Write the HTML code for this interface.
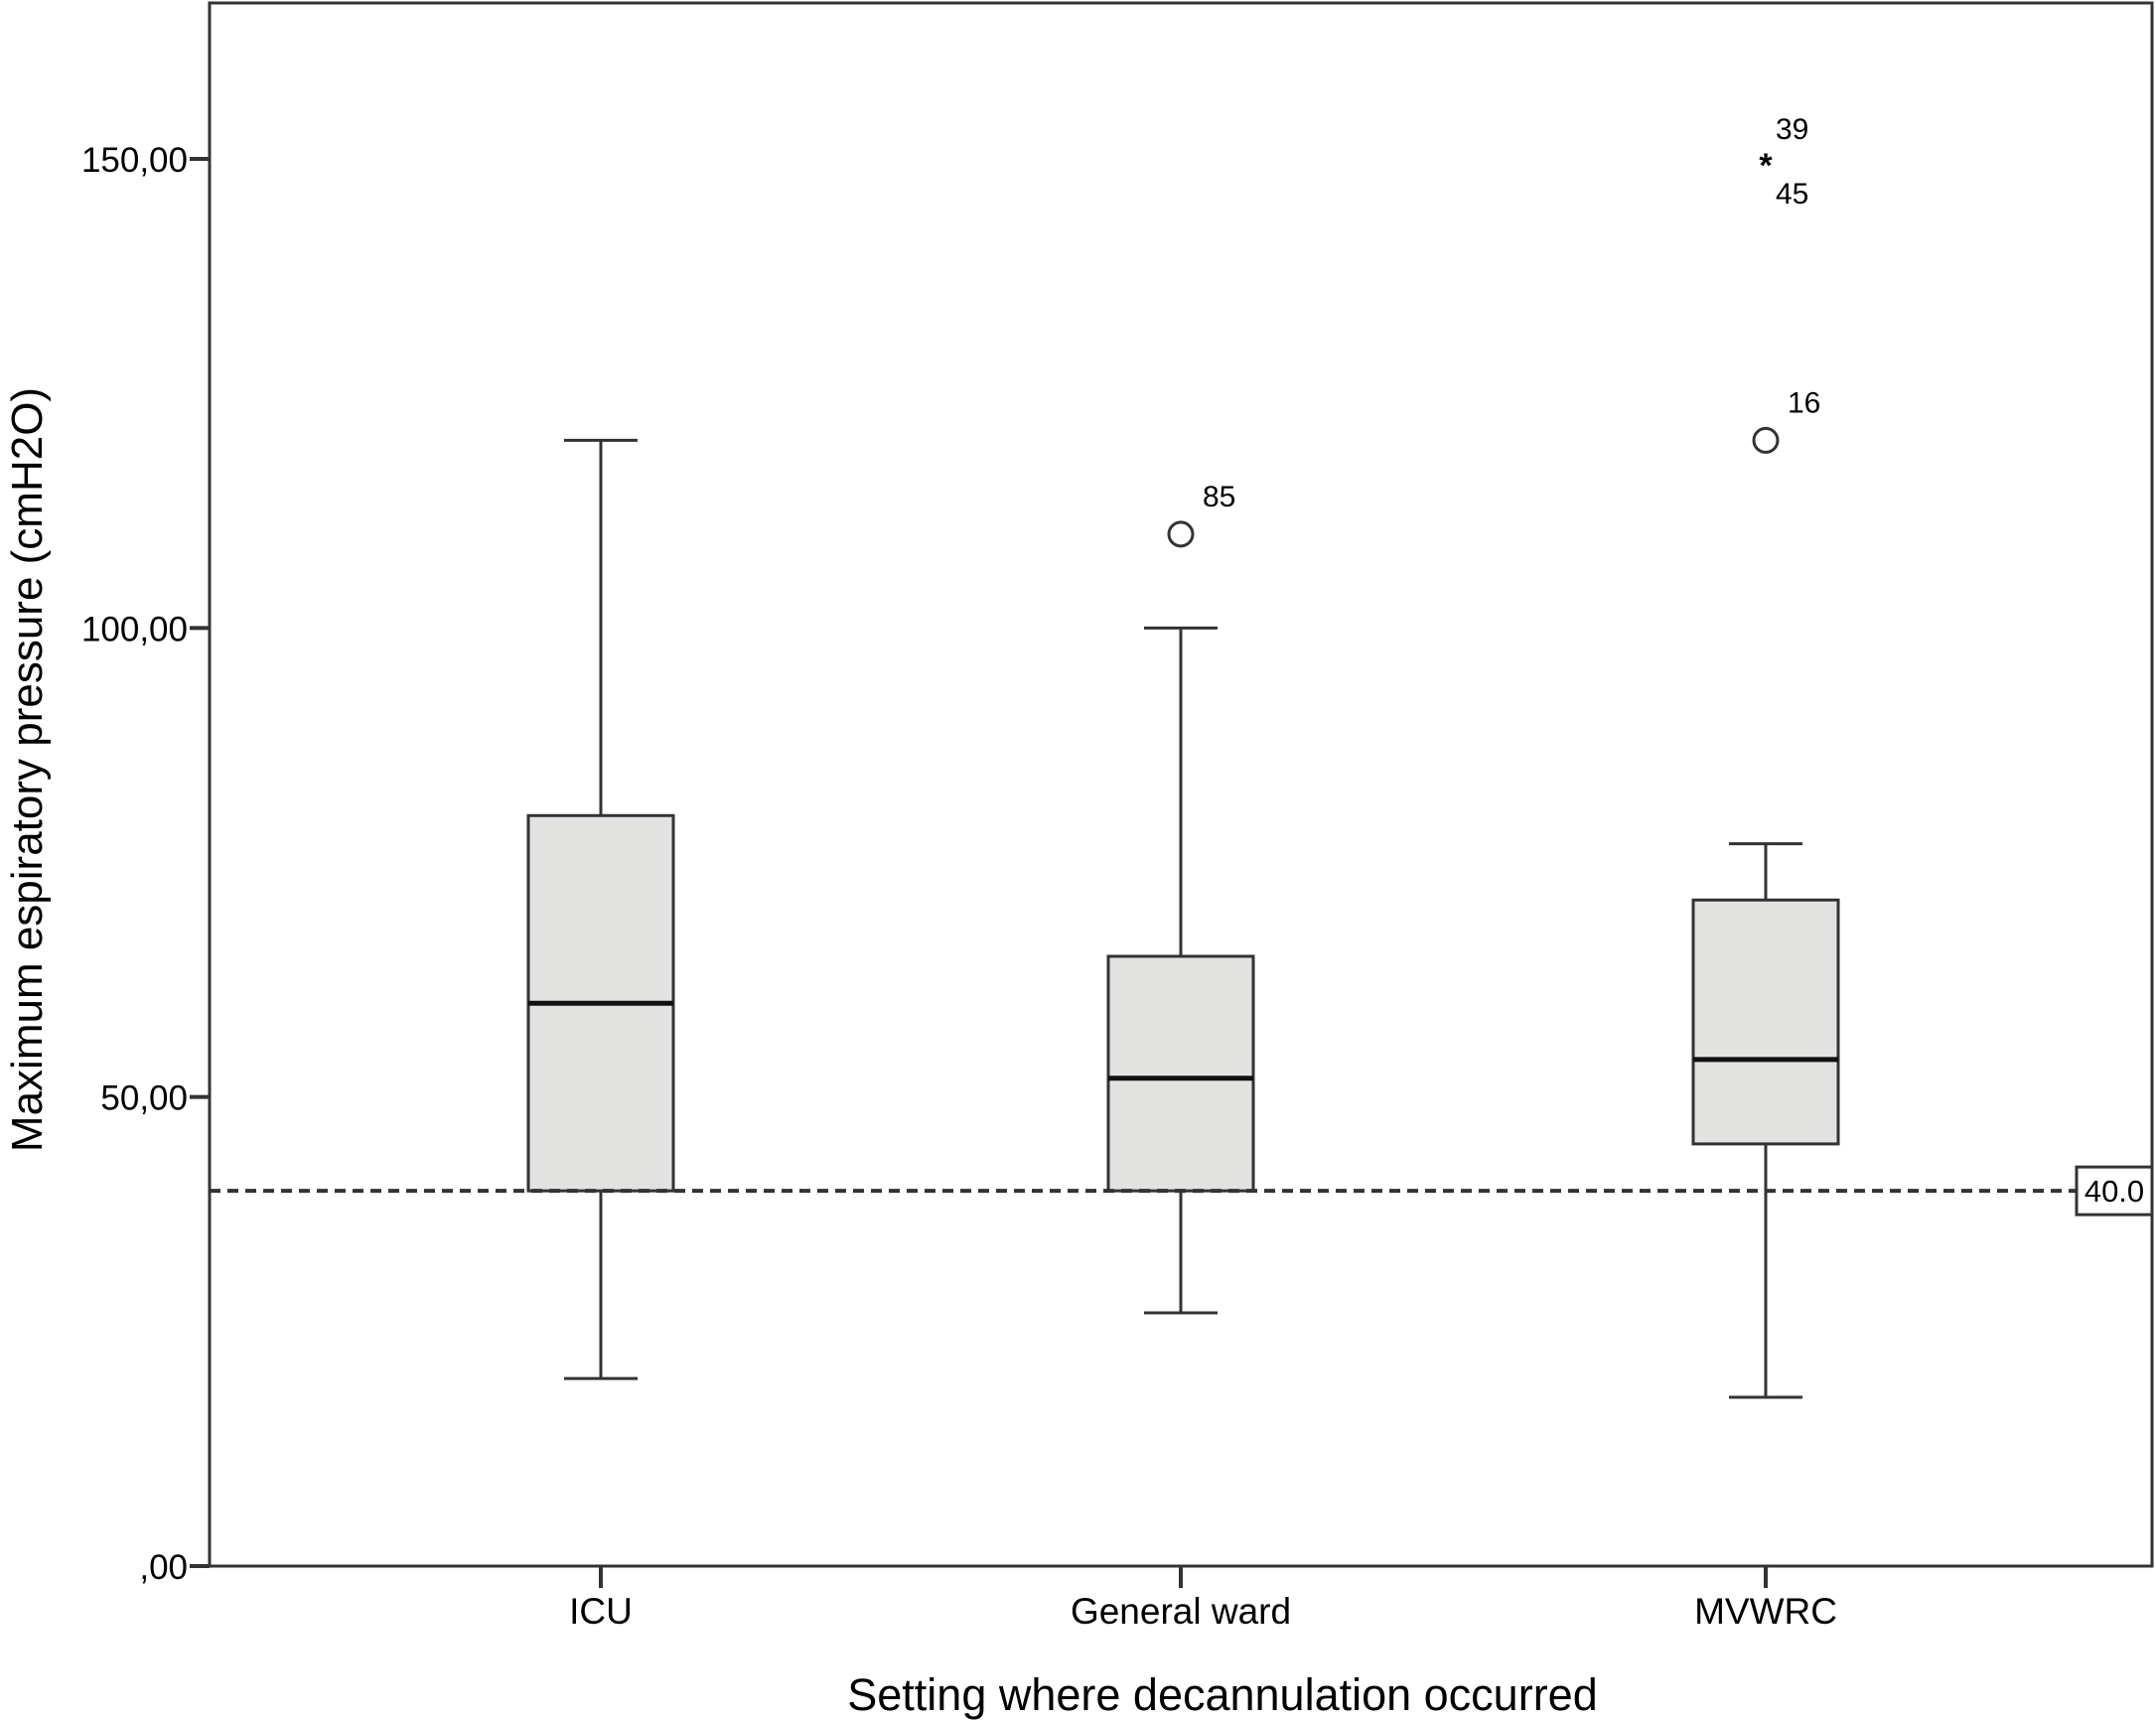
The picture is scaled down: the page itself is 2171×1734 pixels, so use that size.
<!DOCTYPE html>
<html><head><meta charset="utf-8"><style>
html,body{margin:0;padding:0;background:#fff;}
svg{display:block;font-family:"Liberation Sans",Arial,sans-serif;}
</style></head><body>
<svg id="chart" width="2171" height="1734" viewBox="0 0 2171 1734"></svg>
<script>
const categories = ["ICU", "General ward", "MVWRC"];
const whiskerLow = [20, 27, 18];
const q1Values = [40, 40, 45];
const medianValues = [60, 52, 54];
const q3Values = [80, 65, 71];
const whiskerHigh = [120, 100, 77];
const outlierCat = [1, 2];
const outlierVal = [110, 120];
const outlierLabel = ["85", "16"];
const extremeCat = [2];
const extremeVal = [150];
const extremeLabelsAbove = ["39"];
const extremeLabelsBelow = ["45"];
const yTicks = [0, 50, 100, 150];
const yTickLabels = [",00", "50,00", "100,00", "150,00"];
const refValue = 40;
const refLabel = "40.0";

const NS = "http://www.w3.org/2000/svg";
const svg = document.getElementById("chart");
const L = 211, R = 2167, T = 3, B = 1577;
const Y0 = 1577, PXU = (1577 - 160) / 150;
const y = v => Y0 - v * PXU;
const xPos = [605, 1189, 1778];
const x = i => xPos[i];
const col = "#333";
function mk(tag, attrs, parent) {
  const e = document.createElementNS(NS, tag);
  for (const k in attrs) e.setAttribute(k, attrs[k]);
  (parent || svg).appendChild(e);
  return e;
}
const frame = mk("rect", {x: L, y: T, width: R - L, height: B - T, fill: "none", stroke: col, "stroke-width": 3});


yTicks.forEach((v, i) => {
  const t = mk("line", {x1: L - 20, x2: L, y1: y(v), y2: y(v), stroke: col, "stroke-width": 4});
  
  
  const tx = mk("text", {x: L - 22, y: y(v) + 13, "text-anchor": "end", "font-size": 35, fill: "#000"});
  tx.textContent = yTickLabels[i];
  
  
});
categories.forEach((c, i) => {
  const t = mk("line", {x1: x(i), x2: x(i), y1: B, y2: B + 22, stroke: col, "stroke-width": 4});
  
  
  const tx = mk("text", {x: x(i), y: B + 58, "text-anchor": "middle", "font-size": 37, fill: "#000"});
  tx.textContent = c;
  
  
});
const halfW = 73, capW = 37;
categories.forEach((c, i) => {
  const g = mk("g", {});
  
  
  mk("line", {x1: x(i), x2: x(i), y1: y(whiskerHigh[i]), y2: y(q3Values[i]), stroke: col, "stroke-width": 3}, g);
  mk("line", {x1: x(i), x2: x(i), y1: y(q1Values[i]), y2: y(whiskerLow[i]), stroke: col, "stroke-width": 3}, g);
  mk("line", {x1: x(i) - capW, x2: x(i) + capW, y1: y(whiskerHigh[i]), y2: y(whiskerHigh[i]), stroke: col, "stroke-width": 3}, g);
  mk("line", {x1: x(i) - capW, x2: x(i) + capW, y1: y(whiskerLow[i]), y2: y(whiskerLow[i]), stroke: col, "stroke-width": 3}, g);
  mk("rect", {x: x(i) - halfW, y: y(q3Values[i]), width: 2 * halfW, height: y(q1Values[i]) - y(q3Values[i]), fill: "#e2e2e0", stroke: col, "stroke-width": 3}, g);
  mk("line", {x1: x(i) - halfW, x2: x(i) + halfW, y1: y(medianValues[i]), y2: y(medianValues[i]), stroke: "#111", "stroke-width": 5}, g);
});
const ref = mk("line", {x1: L, x2: 2091, y1: y(refValue), y2: y(refValue), stroke: col, "stroke-width": 4, "stroke-dasharray": "11 7"});


const rb = mk("rect", {x: 2091, y: y(refValue) - 24, width: 76, height: 48, fill: "#fff", stroke: col, "stroke-width": 3});


const rt = mk("text", {x: 2129, y: y(refValue) + 11, "text-anchor": "middle", "font-size": 31, fill: "#000"});
rt.textContent = refLabel;


outlierCat.forEach((ci, k) => {
  const c = mk("circle", {cx: x(ci), cy: y(outlierVal[k]), r: 12, fill: "#fff", stroke: col, "stroke-width": 3});
  
  
  const t = mk("text", {x: x(ci) + 22, y: y(outlierVal[k]) - 28, "font-size": 30, fill: "#000"});
  t.textContent = outlierLabel[k];
  
  
});
extremeCat.forEach((ci, k) => {
  const s = mk("text", {x: x(ci), y: y(extremeVal[k]) + 18, "text-anchor": "middle", "font-size": 34, "font-weight": "bold", fill: "#000"});
  s.textContent = "*";
  
  
  const a = mk("text", {x: x(ci) + 10, y: y(extremeVal[k]) - 20, "font-size": 30, fill: "#000"});
  a.textContent = extremeLabelsAbove[k];
  
  
  const b = mk("text", {x: x(ci) + 10, y: y(extremeVal[k]) + 45, "font-size": 30, fill: "#000"});
  b.textContent = extremeLabelsBelow[k];
  
  
});
const xt = mk("text", {x: 1231, y: 1722, "text-anchor": "middle", "font-size": 45, fill: "#000"});
xt.textContent = "Setting where decannulation occurred";


const yt = mk("text", {x: 0, y: 0, "text-anchor": "middle", "font-size": 44, fill: "#000", transform: "translate(42,775) rotate(-90)"});
yt.textContent = "Maximum espiratory pressure (cmH2O)";


</script>
</body></html>
